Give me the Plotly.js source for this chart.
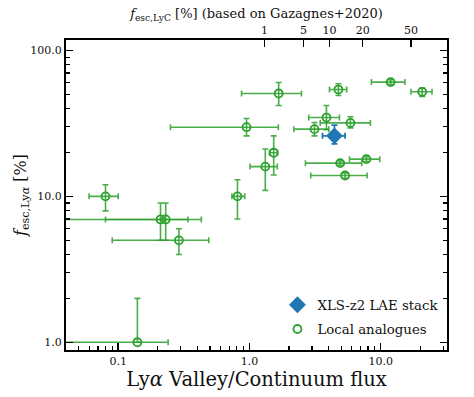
<!DOCTYPE html>
<html>
<head>
<meta charset="utf-8">
<script src="https://cdn.plot.ly/plotly-3.0.1.min.js"></script>
<style>
  body { margin: 0; padding: 0; background: #fff; }
  #plot { width: 474px; height: 397px; }
</style>
</head>
<body>
<div id="plot"></div>
<script>
// Local analogues: value, lower bound, upper bound
var locX   = [0.08, 0.21, 0.23, 0.29, 0.14, 0.81, 0.95, 1.67, 1.53, 1.32, 3.13, 3.86, 4.76, 5.88, 11.9, 20.7, 4.91, 7.78, 5.35];
var locXlo = [0.06, 0.01, 0.08, 0.09, 0.01, 0.735, 0.25, 0.87, 1.42, 1.01, 2.18, 2.83, 4.07, 3.46, 8.5, 17.0, 2.67, 5.78, 2.93];
var locXhi = [0.10, 0.34, 0.43, 0.49, 0.24, 0.92, 1.66, 2.49, 1.64, 1.63, 4.02, 4.85, 5.51, 8.35, 15.3, 24.6, 7.17, 9.83, 7.88];
var locY   = [10.0, 6.95, 6.95, 5.0, 1.0, 10.0, 29.8, 50.7, 19.9, 16.0, 28.9, 34.7, 54.0, 31.9, 60.7, 52.1, 16.9, 18.0, 13.9];
var locYlo = [7.95, 5.0, 5.0, 4.0, 1.0, 7.0, 26.0, 42.0, 14.0, 11.0, 26.0, 28.6, 49.1, 29.5, 58.5, 48.4, 16.3, 17.3, 13.3];
var locYhi = [12.0, 9.0, 9.0, 6.0, 2.0, 13.0, 34.2, 60.3, 26.0, 21.1, 32.1, 42.0, 59.1, 35.1, 63.0, 55.2, 17.5, 18.7, 14.5];

// XLS-z2 stack
var stackX = [4.44], stackXlo = [3.60], stackXhi = [5.35];
var stackY = [26.0], stackYlo = [22.9], stackYhi = [30.8];

// top axis: fesc,LyC labels and their positions on the bottom scale
var topTickText = ['1', '5', '10', '20', '50'];
var topTickPos  = [1.30, 2.58, 4.07, 7.29, 17.0];

var green = '#2ca02c', blue = '#1f77b4';
var font = 'DejaVu Serif';

function minus(v, lo) { return v.map((d, i) => d - lo[i]); }
function plus(v, hi) { return v.map((d, i) => hi[i] - d); }

var local = {
  x: locX, y: locY, type: 'scatter', mode: 'markers', name: 'Local analogues',
  legendrank: 2, legendgroup: 'loc',
  marker: { symbol: 'circle-open', size: 8, color: green, line: { width: 1.8, color: green } },
  error_x: { type: 'data', symmetric: false, array: plus(locX, locXhi), arrayminus: minus(locX, locXlo),
             color: 'rgba(44,160,44,0.85)', thickness: 1.6, width: 3 },
  error_y: { type: 'data', symmetric: false, array: plus(locY, locYhi), arrayminus: minus(locY, locYlo),
             color: 'rgba(44,160,44,0.85)', thickness: 1.6, width: 3 }
};

var stack = {
  x: stackX, y: stackY, type: 'scatter', mode: 'markers', name: 'XLS-z2 LAE stack',
  legendrank: 1, legendgroup: 'stack',
  marker: { symbol: 'diamond', size: 13, color: blue },
  error_x: { type: 'data', symmetric: false, array: plus(stackX, stackXhi), arrayminus: minus(stackX, stackXlo),
             color: blue, thickness: 1.8, width: 3 },
  error_y: { type: 'data', symmetric: false, array: plus(stackY, stackYhi), arrayminus: minus(stackY, stackYlo),
             color: blue, thickness: 1.8, width: 3 }
};

// invisible trace to carry the top axis
var topAxisTrace = { x: [1], y: [1], xaxis: 'x2', type: 'scatter', mode: 'markers',
  marker: { opacity: 0 }, showlegend: false, hoverinfo: 'skip' };

var xRange = [Math.log10(0.04), Math.log10(32)];

var layout = {
  width: 474, height: 397,
  margin: { l: 66, r: 27, t: 40, b: 47 },
  paper_bgcolor: '#fff', plot_bgcolor: '#fff',
  font: { family: font, color: '#111', size: 11 },
  showlegend: true,
  legend: { x: 0.555, y: 0.195, xanchor: 'left', yanchor: 'top', bgcolor: 'rgba(0,0,0,0)',
            font: { family: font, size: 13.3, color: '#111' }, tracegroupgap: 4 },
  xaxis: {
    type: 'log', range: xRange,
    tickvals: [0.1, 1, 10], ticktext: ['0.1', '1.0', '10.0'],
    ticks: 'inside', ticklen: 7, tickwidth: 1.5, tickcolor: '#000',
    minor: { ticks: 'inside', ticklen: 4, tickwidth: 1.2, tickcolor: '#000',
             tickvals: [0.05, 0.06, 0.07, 0.08, 0.09, 0.2, 0.3, 0.4, 0.5, 0.6, 0.7, 0.8, 0.9,
                        2, 3, 4, 5, 6, 7, 8, 9, 20, 30] },
    showline: true, linecolor: '#000', linewidth: 2, mirror: false,
    showgrid: false, zeroline: false,
    tickfont: { family: font, size: 11 },
    title: { text: 'Ly<i>α</i> Valley/Continuum flux', font: { family: font, size: 19.5 }, standoff: 2 }
  },
  xaxis2: {
    type: 'log', range: xRange, overlaying: 'x', side: 'top', anchor: 'y',
    tickvals: topTickPos, ticktext: topTickText,
    ticks: 'inside', ticklen: 7, tickwidth: 1.5, tickcolor: '#000',
    showline: true, linecolor: '#000', linewidth: 2,
    showgrid: false, zeroline: false,
    tickfont: { family: font, size: 11 },
    title: { text: '<i>f</i><sub>esc,LyC</sub> [%] (based on Gazagnes+2020)', font: { family: font, size: 13 }, standoff: 2 }
  },
  yaxis: {
    type: 'log', range: [Math.log10(0.885), Math.log10(118)],
    tickvals: [1, 10, 100], ticktext: ['1.0', '10.0', '100.0'],
    ticks: 'inside', ticklen: 7, tickwidth: 1.5, tickcolor: '#000',
    minor: { ticks: 'inside', ticklen: 4, tickwidth: 1.2, tickcolor: '#000',
             tickvals: [2, 3, 4, 5, 6, 7, 8, 9, 20, 30, 40, 50, 60, 70, 80, 90] },
    showline: true, linecolor: '#000', linewidth: 2, mirror: 'ticks',
    showgrid: false, zeroline: false,
    tickfont: { family: font, size: 11 },
    title: { text: '<i>f</i><sub>esc,Ly<i>α</i></sub> [%]', font: { family: font, size: 16 }, standoff: 0 }
  }
};

Plotly.newPlot('plot', [local, stack, topAxisTrace], layout, { displayModeBar: false, staticPlot: true });
</script>
</body>
</html>
